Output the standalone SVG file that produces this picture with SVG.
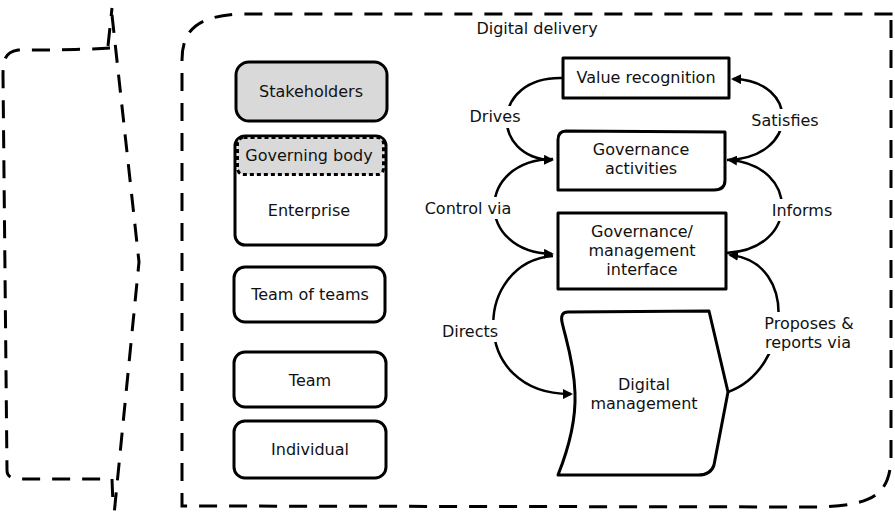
<svg xmlns="http://www.w3.org/2000/svg" width="895" height="528" viewBox="0 0 895 528">
<defs>
<style>
text{font-family:"DejaVu Sans","Open Sans",sans-serif;font-size:16px;fill:#111;text-anchor:middle;dominant-baseline:central}
.box{fill:#fff;stroke:#000;stroke-width:3;stroke-linejoin:round}
.grey{fill:#d9d9d9}
.frame{fill:none;stroke:#000;stroke-width:3;stroke-dasharray:18 12;stroke-linecap:butt}
.conn{fill:none;stroke:#000;stroke-width:2.5}
.lbl{fill:#fff}
</style>
<marker id="ah" markerWidth="10" markerHeight="10" refX="8" refY="5" orient="auto" markerUnits="userSpaceOnUse" viewBox="0 0 10 10">
<path d="M0,0 L10,5 L0,10 Z" fill="#000"/>
</marker>
</defs>
<rect width="895" height="528" fill="#fff"/>

<g id="left-frame">
<path class="frame" d="M108,46 L112,8 M112,15 L139,262 L114,515 M112,479 L113,505 M110,48 C80,50 40,50 18,50 C6,52 3,58 3,75 L7,470 C7,477 12,479 20,479 L112,479" stroke-dasharray="17 10"/>
</g>

<g id="digital-delivery">
<path class="frame" d="M891,20 L891,460 C889,495 872,505 820,507 L182,506 L182,60 C182,28 200,16 240,14 L891,14 L891,22"/>
<text x="537" y="28">Digital delivery</text>
</g>

<g id="stakeholders">
<rect class="box grey" x="236" y="62" width="151" height="59" rx="13"/>
<text x="311" y="91">Stakeholders</text>
</g>

<g id="enterprise">
<rect class="box" x="235" y="136" width="151" height="109" rx="10"/>
<text x="309" y="210">Enterprise</text>
</g>

<g id="governing-body">
<rect x="237.5" y="137.5" width="146" height="37" rx="6" fill="#d9d9d9" stroke="#000" stroke-width="3" stroke-dasharray="4 3"/>
<text x="309" y="155">Governing body</text>
</g>

<g id="team-of-teams">
<rect class="box" x="234" y="267" width="151" height="55" rx="11"/>
<text x="310" y="294">Team of teams</text>
</g>

<g id="team">
<rect class="box" x="234" y="352" width="152" height="55" rx="11"/>
<text x="310" y="380">Team</text>
</g>

<g id="individual">
<rect class="box" x="234" y="421" width="152" height="57" rx="11"/>
<text x="310" y="449">Individual</text>
</g>

<g id="value-recognition">
<rect class="box" x="563" y="58" width="166" height="40"/>
<text x="646" y="77">Value recognition</text>
</g>

<g id="governance-activities">
<path class="box" d="M566,131 L725,132 L725,180 Q725,190 714,190 L558,190 L558,140 Q558,131 566,131 Z"/>
<text x="641" y="149.5">Governance</text>
<text x="641" y="168.5">activities</text>
</g>

<g id="governance-management-interface">
<rect class="box" x="558" y="213" width="168" height="76"/>
<text x="642" y="231">Governance/</text>
<text x="642" y="250">management</text>
<text x="642" y="269">interface</text>
</g>

<g id="digital-management">
<path class="box" d="M568,312 L709,311 L728,392 L714,465 Q711,475 698,475 L558,475 C570,445 576,420 575,393 C574,362 566,340 562,322 Q560,312 568,312 Z"/>
<text x="644" y="384">Digital</text>
<text x="644" y="403">management</text>
</g>

<g id="connectors">
<path class="conn" d="M563,78 C490,76 490,158 552,160" marker-end="url(#ah)"/>
<path class="conn" d="M553,159 C475,160 475,252 552,254" marker-end="url(#ah)"/>
<path class="conn" d="M553,256 C473,262 468,395 571,394" marker-end="url(#ah)"/>
<path class="conn" d="M727,160 C800,158 800,80 733,79" marker-end="url(#ah)"/>
<path class="conn" d="M726,253 C800,250 800,165 729,160" marker-end="url(#ah)"/>
<path class="conn" d="M728,392 C790,370 800,262 730,255" marker-end="url(#ah)"/>
</g>

<g id="labels">
<rect class="lbl" x="467" y="106" width="56" height="22"/>
<text x="495" y="116">Drives</text>
<rect class="lbl" x="752" y="109" width="66" height="22"/>
<text x="785" y="120">Satisfies</text>
<rect class="lbl" x="423" y="197" width="90" height="22"/>
<text x="468" y="208">Control via</text>
<rect class="lbl" x="771" y="199" width="62" height="22"/>
<text x="802" y="210">Informs</text>
<rect class="lbl" x="442" y="320" width="58" height="22"/>
<text x="470" y="331">Directs</text>
<rect class="lbl" x="762" y="312" width="94" height="42"/>
<text x="809" y="323">Proposes &amp;</text>
<text x="808" y="342">reports via</text>
</g>
</svg>
